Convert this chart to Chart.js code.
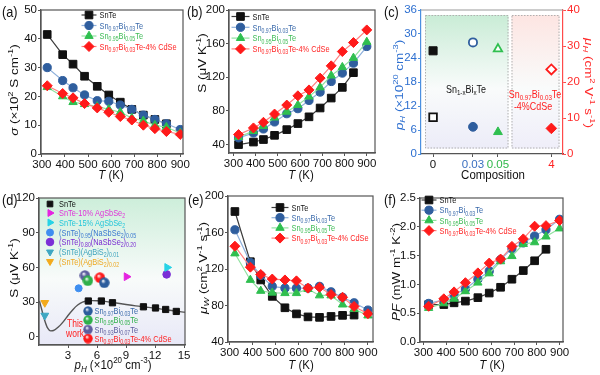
<!DOCTYPE html>
<html>
<head>
<meta charset="utf-8">
<title>Sn1-xBixTe transport</title>
<script src="https://cdn.jsdelivr.net/npm/chart.js"></script>
<style>
  body { margin: 0; background: #ffffff; }
  #wrap { position: relative; width: 600px; height: 375px; overflow: hidden; background: #fff; }
</style>
</head>
<body>
<div id="wrap"></div>
<script>
// ---------- data ----------
const temps = [323, 390, 435, 485, 540, 590, 640, 690, 740, 790, 840, 900];
const tempTicks = [300, 400, 500, 600, 700, 800, 900];
const sampleNames = ['SnTe', 'Sn_{0.97}Bi_{0.03}Te', 'Sn_{0.95}Bi_{0.05}Te', 'Sn_{0.97}Bi_{0.03}Te-4% CdSe'];

// (a) sigma, 10^2 S/cm
const sigmaSnTe = [41.5, 34.5, 31.2, 27.0, 23.5, 20.5, 18.0, 15.5, 13.5, 12.0, 10.5];
const sigmaBi3  = [30.0, 25.5, 23.0, 20.5, 18.5, 18.3, 17.0, 15.5, 13.5, 12.0, 10.5, 8.5];
const sigmaBi5  = [23.2, 20.0, 18.0, 17.3, 16.5, 15.5, 14.5, 12.5, 11.5, 10.0, 9.3, 7.3];
const sigmaCdSe = [23.7, 21.0, 19.5, 17.5, 16.0, 14.5, 13.0, 11.8, 10.0, 8.8, 7.8, 6.8];
const sigmaTicks = [0, 10, 20, 30, 40, 50];

// (b) Seebeck, uV/K
const seebSnTe = [40, 43, 46, 51, 57.8, 65, 73, 83.5, 95.3, 108, 125.5];
const seebBi3  = [48, 53.8, 58.6, 66.9, 76.7, 82.7, 92.5, 102.4, 115, 125, 136.8, 156.6];
const seebBi5  = [49, 56, 62, 72, 79, 87, 97, 108, 122, 132, 143, 162];
const seebCdSe = [51.9, 59.8, 66.5, 76.3, 87, 98, 105, 119, 133.6, 150.6, 161.3, 176.3];
const seebTicks = [40, 80, 120, 160, 200];

// (c) room temperature Hall data
const compLabels = ['0', '0.03', '0.05', '4'];
const compCarrier = [25.8, 6.8, 5.5, 6.4];     // p_H, 10^20 cm^-3 (left axis)
const compMobility = [10.2, 31.0, 29.2, 23.5]; // mu_H, cm2/Vs (right axis)
const carrierTicks = [0, 6, 12, 18, 24, 30, 36];
const mobilityTicks = [0, 10, 20, 30, 40];

// (d) Pisarenko plot
const pisP = [0.05, 0.3, 0.6, 0.9, 1.2, 1.5, 2.0, 2.5, 3.0, 3.5, 4.0, 4.5, 5.0, 5.5, 6.0, 7.0, 8.0, 9.0, 10.0, 11.0, 12.0, 13.0, 14.0, 15.1];
const pisS = [31, 23, 14, 7.5, 5.2, 5.5, 8.5, 13, 18.5, 23.5, 27.5, 30, 31, 31.3, 31.2, 30.5, 29.3, 28, 26.8, 25.8, 24.8, 23.6, 22.4, 21.3];
const litNames = ['SnTe', 'SnTe-10% AgSbSe_{2}', 'SnTe-15% AgSbSe_{2}', '(SnTe)_{0.95}(NaSbSe_{2})_{0.05}',
  '(SnTe)_{0.80}(NaSbSe_{2})_{0.20}', '(SnTe)(AgBiS_{2})_{0.01}', '(SnTe)(AgBiS_{2})_{0.02}'];
const litP = [[5.1, 6.45, 7.6, 10.8, 12.05, 13.1, 14.2], [9.05], [13.25], [4.1], [13.2], [0.6], [0.6]];
const litS = [[31, 31, 29.5, 26, 25, 23.7, 22], [52], [60], [42], [54], [18.5], [29.5]];
const workNames = ['Sn_{0.97}Bi_{0.03}Te', 'Sn_{0.95}Bi_{0.05}Te', 'Sn_{0.93}Bi_{0.07}Te', 'Sn_{0.97}Bi_{0.03}Te-4% CdSe'];
const workP = [6.75, 5.05, 4.75, 6.3];
const workS = [46.8, 48.6, 53, 51.2];
const pisTicksX = [3, 6, 9, 12, 15];
const pisTicksY = [0, 30, 60, 90, 120];

// (e) weighted mobility, cm2/Vs
const muSnTe = [183, 128, 108, 90, 77.5, 70.8, 67.5, 67, 68, 69.2, 69.5];
const muBi3  = [163, 127, 113, 101, 99, 99, 99, 101, 95, 89, 83, 75];
const muBi5  = [137, 108, 96, 94, 93.5, 93.5, 98, 91, 91, 81, 76, 69];
const muCdSe = [145, 122, 114, 109, 108, 107, 99, 100, 92, 89, 79, 71];
const muTicks = [40, 80, 120, 160, 200];

// (f) power factor, mW m^-1 K^-2
const pfSnTe = [0.65, 0.65, 0.68, 0.71, 0.77, 0.85, 0.95, 1.09, 1.24, 1.41, 1.61];
const pfBi3  = [0.67, 0.73, 0.82, 0.92, 1.09, 1.23, 1.43, 1.62, 1.72, 1.84, 1.95, 2.13];
const pfBi5  = [0.59, 0.67, 0.75, 0.88, 1.03, 1.19, 1.40, 1.49, 1.70, 1.73, 1.83, 1.97];
const pfCdSe = [0.62, 0.75, 0.87, 1.03, 1.20, 1.37, 1.44, 1.66, 1.79, 2.01, 2.02, 2.11];
const pfTicks = [0, 0.5, 1.0, 1.5, 2.0, 2.5];

// ---------- styles / layout ----------
const FONT = '"Liberation Sans", Arial, sans-serif';
const AXIS = '#555555';
const TICK_FONT = { family: '"Liberation Sans Narrow", "Liberation Sans", Arial, sans-serif', size: 11.5 };

const SERIES_STYLE = [
  { marker: '#111111', line: '#3c3c3c', text: '#111111', style: 'rect', radius: 5.4 },
  { marker: '#2f5e9e', line: '#8eb0db', text: '#3868aa', style: 'circle', radius: 4.1 },
  { marker: '#2fbf4f', line: '#8fe29f', text: '#3dbb55', style: 'triangle', radius: 4.8 },
  { marker: '#ff1a1a', line: '#ff7f7f', text: '#ff2424', style: 'rectRot', radius: 5.0 }
];
const LIT_STYLE = [
  { color: '#111111', text: '#111111', style: 'rect', radius: 4.4, rot: 0 },
  { color: '#e524e0', text: '#e030d8', style: 'triangle', radius: 4.5, rot: 90 },
  { color: '#27d3e6', text: '#22c6da', style: 'triangle', radius: 4.5, rot: 90 },
  { color: '#3e8ef0', text: '#3a78d0', style: 'circle', radius: 3.5, rot: 0 },
  { color: '#7b2fd6', text: '#7a2ad2', style: 'circle', radius: 3.8, rot: 0 },
  { color: '#3ea7c2', text: '#3aa2bd', style: 'triangle', radius: 4.5, rot: 180 },
  { color: '#f3aa1c', text: '#eea720', style: 'triangle', radius: 4.5, rot: 180 }
];
const WORK_COLORS = ['#2b5c9c', '#2fb04a', '#5d5d9e', '#ff1a1a'];
const WORK_TEXT = ['#3868aa', '#2fb04a', '#5d5d9e', '#ff2020'];
const COMP_TICK_COLORS = ['#111111', '#3a6fc0', '#2fb84a', '#ff2020'];
const compSlot = [0.85, 3.66, 5.42, 9.18]; // x placement of the composition groups (axis 0..10)

function geo(cx, cy, cw, ch, l, t, r, b) { return { cx, cy, cw, ch, l, t, r, b }; }
const G = {
  a: geo(0, 0, 195, 187, 41, 10, 183, 154),
  b: geo(185, 0, 205, 187, 229, 10, 375, 153),
  c: geo(383, 0, 217, 187, 421, 10, 563, 154),
  d: geo(0, 187, 195, 188, 39, 198, 185, 345),
  e: geo(185, 187, 205, 188, 228, 196, 373, 342),
  f: geo(383, 187, 217, 188, 420, 198, 563, 342)
};

// ---------- rich text helpers ----------
function parseRich(s) {
  const parts = [];
  let i = 0, buf = '', it = false;
  const push = (t, m) => { if (t) parts.push({ t, m, it }); };
  while (i < s.length) {
    const c = s[i];
    if ((c === '_' || c === '^') && s[i + 1] === '{') {
      push(buf, 'n'); buf = '';
      const j = s.indexOf('}', i);
      push(s.slice(i + 2, j), c === '_' ? 'sub' : 'sup');
      i = j + 1;
      continue;
    }
    if (c === '*') { push(buf, 'n'); buf = ''; it = !it; i++; continue; }
    buf += c; i++;
  }
  push(buf, 'n');
  return parts;
}
function fontFor(p, size) {
  const sz = p.m === 'n' ? size : size * 0.7;
  return (p.it ? 'italic ' : '') + sz.toFixed(2) + 'px ' + FONT;
}
function drawRich(ctx, s, x, y, o) {
  const parts = parseRich(s), size = o.size || 12, sx = o.sx || 1;
  ctx.save();
  ctx.translate(x, y);
  if (o.rot) ctx.rotate(o.rot);
  ctx.scale(sx, 1);
  ctx.fillStyle = o.color || '#111';
  ctx.textBaseline = 'alphabetic';
  ctx.textAlign = 'left';
  let w = 0;
  parts.forEach(p => { ctx.font = fontFor(p, size); w += ctx.measureText(p.t).width; });
  let cx = o.align === 'center' ? -w / 2 : o.align === 'right' ? -w : 0;
  const base = size * 0.36;
  parts.forEach(p => {
    ctx.font = fontFor(p, size);
    const dy = p.m === 'sub' ? size * 0.25 : p.m === 'sup' ? -size * 0.42 : 0;
    ctx.fillText(p.t, cx, base + dy);
    cx += ctx.measureText(p.t).width;
  });
  ctx.restore();
}
const LABEL = { size: 15, sx: 0.85, color: '#111' };
const XT = { size: 13.5, sx: 0.85, align: 'center', color: '#111' };
const YT = { size: 10.5, sx: 1.28, align: 'center', rot: -Math.PI / 2, color: '#111' };
const LEG = { size: 9, sx: 0.82 };

function sphere(color, d) {
  const c = document.createElement('canvas');
  c.width = c.height = d;
  const g = c.getContext('2d'), r = d / 2;
  const grad = g.createRadialGradient(r * 0.75, r * 0.65, r * 0.05, r, r, r);
  grad.addColorStop(0, '#ffffff');
  grad.addColorStop(0.4, color);
  grad.addColorStop(1, color);
  g.fillStyle = grad;
  g.beginPath(); g.arc(r, r, r - 0.3, 0, Math.PI * 2); g.fill();
  return c;
}
const SPHERES = WORK_COLORS.map(c => sphere(c, 11));

// ---------- chart scaffolding ----------
function makeCanvas(g) {
  const c = document.createElement('canvas');
  c.width = g.cw; c.height = g.ch;
  c.style.cssText = `position:absolute;left:${g.cx}px;top:${g.cy}px;width:${g.cw}px;height:${g.ch}px`;
  document.getElementById('wrap').appendChild(c);
  return c;
}
function common(g, scales, rightAxis) {
  return {
    responsive: false, animation: false, devicePixelRatio: 1, events: [],
    layout: { padding: { top: g.t - g.cy, left: 0, bottom: 0, right: rightAxis ? 0 : g.cx + g.cw - g.r } },
    plugins: { legend: { display: false }, tooltip: { enabled: false } },
    scales
  };
}
function scaleLin(g, axis, range, ticks, o = {}) {
  const isX = axis === 'x';
  return {
    type: 'linear',
    position: o.position || (isX ? 'bottom' : 'left'),
    min: range[0], max: range[1],
    afterBuildTicks: ax => { ax.ticks = ticks.map(v => ({ value: v })); },
    afterFit: ax => {
      if (isX) ax.height = g.cy + g.ch - g.b;
      else if (o.position === 'right') ax.width = g.cx + g.cw - g.r;
      else ax.width = g.l - g.cx;
    },
    grid: { drawOnChartArea: false, drawTicks: true, tickLength: 3, color: o.color || AXIS, lineWidth: 1 },
    border: { display: true, color: o.color || AXIS, width: 1.2 },
    ticks: {
      font: TICK_FONT, color: o.tickColor || '#111', padding: 1, maxRotation: 0, autoSkip: false,
      callback: o.callback || (v => (o.digits != null ? v.toFixed(o.digits) : String(v)))
    }
  };
}
function deco(g, cfg) {
  const L = x => x - g.cx, T = y => y - g.cy;
  return {
    id: 'deco',
    beforeDraw(chart) { if (cfg.bg) cfg.bg(chart.ctx, chart, L, T); },
    afterDraw(chart) {
      const ctx = chart.ctx, a = chart.chartArea;
      ctx.save();
      ctx.lineWidth = 1.2;
      if (cfg.frame === 'top') {
        ctx.strokeStyle = '#999';
        ctx.beginPath(); ctx.moveTo(a.left, a.top); ctx.lineTo(a.right, a.top); ctx.stroke();
      } else {
        ctx.strokeStyle = AXIS;
        ctx.strokeRect(a.left, a.top, a.right - a.left, a.bottom - a.top);
      }
      ctx.restore();
      (cfg.texts || []).forEach(t => drawRich(ctx, t.s, L(t.x), T(t.y), t.o));
      if (cfg.legend) cfg.legend(ctx, L, T);
    }
  };
}
function tempLegend(leg) {
  return (ctx, L, T) => {
    sampleNames.forEach((name, i) => {
      const st = SERIES_STYLE[i];
      const y = T(leg.y + i * leg.dy), x0 = L(leg.x), x1 = L(leg.x + leg.len);
      ctx.save();
      ctx.strokeStyle = st.line; ctx.lineWidth = 1.2;
      ctx.beginPath(); ctx.moveTo(x0, y); ctx.lineTo(x1, y); ctx.stroke();
      ctx.fillStyle = st.marker; ctx.strokeStyle = st.marker; ctx.lineWidth = 1;
      Chart.helpers.drawPoint(ctx, { pointStyle: st.style, radius: st.radius, borderWidth: 1, rotation: 0 }, (x0 + x1) / 2, y);
      ctx.restore();
      drawRich(ctx, name, x1 + 3, y, Object.assign({ color: st.text }, LEG));
    });
  };
}
function tempChart(g, series, xRange, yRange, yTicks, cfg, digits) {
  const datasets = series.map((vals, i) => {
    const st = SERIES_STYLE[i];
    return {
      data: vals.map((v, k) => ({ x: temps[k], y: v })),
      borderColor: st.line, borderWidth: 1.2,
      pointStyle: st.style, pointRadius: st.radius,
      pointBackgroundColor: st.marker, pointBorderColor: st.marker, pointBorderWidth: 1,
      order: -i, tension: 0
    };
  });
  new Chart(makeCanvas(g), {
    type: 'line',
    data: { datasets },
    options: common(g, {
      x: scaleLin(g, 'x', xRange, tempTicks),
      y: scaleLin(g, 'y', yRange, yTicks, { digits })
    }),
    plugins: [deco(g, cfg)]
  });
}

// ---------- (a) ----------
tempChart(G.a, [sigmaSnTe, sigmaBi3, sigmaBi5, sigmaCdSe], [296, 912], [0, 50], sigmaTicks, {
  texts: [
    { s: '(a)', x: 2, y: 12, o: LABEL },
    { s: '*σ* (×10^{2} S cm^{-1})', x: 14, y: 90, o: YT },
    { s: '*T* (K)', x: 111, y: 174, o: XT }
  ],
  legend: tempLegend({ x: 81.5, len: 15, y: 15, dy: 10.5 })
});

// ---------- (b) ----------
tempChart(G.b, [seebSnTe, seebBi3, seebBi5, seebCdSe], [280, 937], [30, 200], seebTicks, {
  texts: [
    { s: '(b)', x: 187, y: 12, o: LABEL },
    { s: 'S (μV K^{-1})', x: 202, y: 63, o: YT },
    { s: '*T* (K)', x: 301, y: 174, o: XT }
  ],
  legend: tempLegend({ x: 231.5, len: 18, y: 16.5, dy: 10.8 })
});

// ---------- (c) ----------
(function () {
  const g = G.c;
  const datasets = [];
  compLabels.forEach((lab, i) => {
    const st = SERIES_STYLE[i];
    datasets.push({
      yAxisID: 'y', data: [{ x: compSlot[i], y: compCarrier[i] }],
      pointStyle: st.style, pointRadius: st.radius + 0.3,
      pointBackgroundColor: st.marker, pointBorderColor: st.marker, pointBorderWidth: 1
    });
    datasets.push({
      yAxisID: 'y1', data: [{ x: compSlot[i], y: compMobility[i] }],
      pointStyle: st.style, pointRadius: st.radius,
      pointBackgroundColor: '#ffffff', pointBorderColor: st.marker, pointBorderWidth: 1.8
    });
  });
  const blue = '#4a8fe0', red = '#ff4a4a';
  new Chart(makeCanvas(g), {
    type: 'scatter',
    data: { datasets },
    options: common(g, {
      x: scaleLin(g, 'x', [0, 10], compSlot, {
        callback: (v, i) => compLabels[i],
        tickColor: c => COMP_TICK_COLORS[c.index]
      }),
      y: scaleLin(g, 'y', [0, 36], carrierTicks, { color: blue, tickColor: '#2d6fd0' }),
      y1: scaleLin(g, 'y', [0, 40], mobilityTicks, { position: 'right', color: red, tickColor: '#ff2a2a' })
    }, true),
    plugins: [deco(g, {
      frame: 'top',
      bg: (ctx, chart, L, T) => {
        const box = (x0, y0, x1, y1, top, bottom) => {
          const gr = ctx.createLinearGradient(0, T(y0), 0, T(y1));
          gr.addColorStop(0, top);
          gr.addColorStop(0.55, '#f9fbfb');
          gr.addColorStop(1, bottom);
          ctx.fillStyle = gr;
          ctx.fillRect(L(x0), T(y0), x1 - x0, y1 - y0);
          ctx.save();
          ctx.strokeStyle = '#b0b0b0'; ctx.lineWidth = 1; ctx.setLineDash([1.5, 1.5]);
          ctx.strokeRect(L(x0) + 0.5, T(y0) + 0.5, x1 - x0 - 1, y1 - y0 - 1);
          ctx.restore();
        };
        box(425, 15, 508.5, 148.5, '#c9ecd6', '#ececf8');
        box(511.5, 15, 559.5, 148.5, '#fde5e2', '#efeef9');
      },
      texts: [
        { s: '(c)', x: 384, y: 12, o: LABEL },
        { s: '*p_{H}* (×10^{20} cm^{-3})', x: 399, y: 85, o: Object.assign({}, YT, { color: '#2d6fd0' }) },
        { s: '*μ_{H}* (cm^{2} V^{-1} s^{-1})', x: 589, y: 83, o: Object.assign({}, YT, { color: '#ff2a2a', rot: Math.PI / 2 }) },
        { s: 'Composition', x: 493, y: 174, o: XT },
        { s: 'Sn_{1-x}Bi_{x}Te', x: 466, y: 89, o: { size: 10.5, sx: 0.85, align: 'center', color: '#111' } },
        { s: 'Sn_{0.97}Bi_{0.03}Te', x: 535, y: 94, o: { size: 10.5, sx: 0.85, align: 'center', color: '#ff2020' } },
        { s: '-4%CdSe', x: 533, y: 106, o: { size: 10.5, sx: 0.85, align: 'center', color: '#ff2020' } }
      ]
    })]
  });
})();

// ---------- (d) ----------
(function () {
  const g = G.d;
  const datasets = [{
    type: 'line', showLine: true,
    data: pisP.map((p, i) => ({ x: p, y: pisS[i] })),
    borderColor: '#555555', borderWidth: 1.4, pointRadius: 0,
    cubicInterpolationMode: 'monotone', order: 10
  }];
  litNames.forEach((n, i) => {
    const st = LIT_STYLE[i];
    datasets.push({
      data: litP[i].map((p, k) => ({ x: p, y: litS[i][k] })),
      pointStyle: st.style, pointRotation: st.rot, pointRadius: st.radius,
      pointBackgroundColor: st.color, pointBorderColor: st.color, pointBorderWidth: 1, order: 1
    });
  });
  workNames.forEach((n, i) => {
    datasets.push({
      data: [{ x: workP[i], y: workS[i] }],
      pointStyle: SPHERES[i], pointRadius: 5.5, order: 0
    });
  });
  new Chart(makeCanvas(g), {
    type: 'scatter',
    data: { datasets },
    options: common(g, {
      x: scaleLin(g, 'x', [0, 15.1], pisTicksX),
      y: scaleLin(g, 'y', [-7, 120], pisTicksY)
    }),
    plugins: [deco(g, {
      bg: (ctx, chart) => {
        const a = chart.chartArea;
        const gr = ctx.createLinearGradient(0, a.top, 0, a.bottom);
        gr.addColorStop(0, '#cdeeda');
        gr.addColorStop(0.55, '#f8fbfa');
        gr.addColorStop(1, '#e8e8f7');
        ctx.fillStyle = gr;
        ctx.fillRect(a.left, a.top, a.right - a.left, a.bottom - a.top);
      },
      texts: [
        { s: '(d)', x: 2, y: 200, o: LABEL },
        { s: 'S (μV K^{-1})', x: 14, y: 268, o: YT },
        { s: '*p_{H}* (×10^{20} cm^{-3})', x: 113, y: 364, o: XT },
        { s: 'This', x: 75, y: 323, o: { size: 10, sx: 0.85, align: 'center', color: '#ff2020' } },
        { s: 'work', x: 75, y: 333, o: { size: 10, sx: 0.85, align: 'center', color: '#ff2020' } }
      ],
      legend: (ctx, L, T) => {
        const rows = [204, 213, 222.5, 232.5, 242, 252, 261.5];
        litNames.forEach((n, i) => {
          const st = LIT_STYLE[i];
          ctx.save();
          ctx.fillStyle = st.color; ctx.strokeStyle = st.color; ctx.lineWidth = 1;
          Chart.helpers.drawPoint(ctx, { pointStyle: st.style, radius: Math.min(st.radius, 4), borderWidth: 1, rotation: st.rot }, L(50), T(rows[i]));
          ctx.restore();
          drawRich(ctx, n, L(59), T(rows[i]), Object.assign({ color: st.text }, LEG));
        });
        const wrows = [311, 320, 329.5, 338.5];
        workNames.forEach((n, i) => {
          ctx.drawImage(SPHERES[i], L(88) - 5, T(wrows[i]) - 5, 10, 10);
          drawRich(ctx, n, L(94.5), T(wrows[i]), Object.assign({ color: WORK_TEXT[i] }, LEG));
        });
      }
    })]
  });
})();

// ---------- (e) ----------
tempChart(G.e, [muSnTe, muBi3, muBi5, muCdSe], [293, 922], [40, 200], muTicks, {
  texts: [
    { s: '(e)', x: 188, y: 200, o: LABEL },
    { s: '*μ_{W}* (cm^{2} V^{-1} s^{-1})', x: 203, y: 268, o: YT },
    { s: '*T* (K)', x: 301, y: 364, o: XT }
  ],
  legend: tempLegend({ x: 271.5, len: 17, y: 207.5, dy: 10.2 })
});

// ---------- (f) ----------
tempChart(G.f, [pfSnTe, pfBi3, pfBi5, pfCdSe], [285, 915], [0, 2.5], pfTicks, {
  texts: [
    { s: '(f)', x: 384, y: 200, o: LABEL },
    { s: '*PF* (mW m^{-1} K^{-2})', x: 396, y: 272, o: YT },
    { s: '*T* (K)', x: 492, y: 364, o: XT }
  ],
  legend: tempLegend({ x: 421.5, len: 15, y: 200, dy: 10.2 })
}, 1);
</script>
</body>
</html>
